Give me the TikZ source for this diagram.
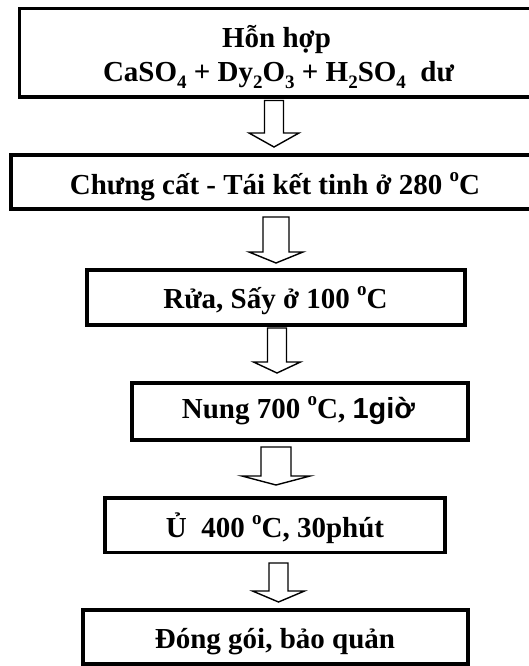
\documentclass[tikz,border=0pt]{standalone}
\usepackage{fontspec}
\setmainfont{Liberation Serif}
\newfontfamily\arialf{Liberation Sans}
\usetikzlibrary{calc}
\newcommand\sbx[1]{\raisebox{-0.22em}{\fontsize{19}{19}\selectfont #1}}
\newcommand\supo{\raisebox{0.42em}{\fontsize{19}{19}\selectfont o}}
\newcommand\blockarrow[8]{%
  \draw[arrowline] let \p1=(#1.south), \p2=(#2.north) in
  (#3pt-#6pt, \y1-#4pt) -- (#3pt+#6pt, \y1-#4pt) -- (#3pt+#6pt, \y2+#5pt+#8pt)
  -- (#3pt+#7pt, \y2+#5pt+#8pt) -- (#3pt, \y2+#5pt) -- (#3pt-#7pt, \y2+#5pt+#8pt)
  -- (#3pt-#6pt, \y2+#5pt+#8pt) -- cycle;}
\tikzset{
  box/.style={draw, line width=3.6pt, rectangle, inner sep=0pt, outer sep=0pt, fill=white},
  txt/.style={anchor=base, inner sep=0pt, font=\fontsize{29}{34}\selectfont\bfseries},
  arrowline/.style={draw, line width=1.4pt, fill=white, line join=miter}
}
\begin{document}
\begin{tikzpicture}[x=1pt, y=-1pt]
\clip (0,0) rectangle (529,666);
\fill[white] (0,0) rectangle (529,666);
% boxes
\node[box, minimum width=525.7pt, minimum height=88.6pt] (b1) at (282.15,53) {};
\node[box, minimum width=534.3pt, minimum height=54pt] (b2) at (277.85,182) {};
\node[box, minimum width=378.3pt, minimum height=55pt] (b3) at (275.85,297.5) {};
\node[box, minimum width=336.3pt, minimum height=57pt] (b4) at (299.85,411.5) {};
\node[box, minimum width=340pt, minimum height=54.5pt] (b5) at (275,525.25) {};
\node[box, minimum width=385pt, minimum height=54pt] (b6) at (275.5,637) {};
% texts
\node[txt] (t1a) at (276.5,48) {Hỗn hợp};
\node[txt] (t1b) at (278.5,82) {CaSO\sbx{4} + Dy\sbx{2}O\sbx{3} + H\sbx{2}SO\sbx{4} \ dư};
\node[txt] (t2) at (275,194) {Chưng cất - Tái kết tinh ở 280 \supo C};
\node[txt] (t3) at (275.5,308) {Rửa, Sấy ở 100 \supo C};
\node[txt] (t4) at (298.5,418) {Nung 700 \supo C, {\arialf 1giờ}};
\node[txt] (t5) at (275,537) {Ủ \ 400 \supo C, 30phút};
\node[txt] (t6) at (275,648) {Đóng gói, bảo quản};
% arrows
\blockarrow{b1}{b2}{274}{3.2}{8}{9.5}{25}{14}
\blockarrow{b2}{b3}{276}{8}{7}{13}{27}{11}
\blockarrow{b3}{b4}{277}{3}{10}{9.5}{23.5}{11}
\blockarrow{b4}{b5}{276}{7}{13}{15}{34}{9}
\blockarrow{b5}{b6}{278.5}{10.5}{8}{9.5}{26}{11}
\end{tikzpicture}
\end{document}
